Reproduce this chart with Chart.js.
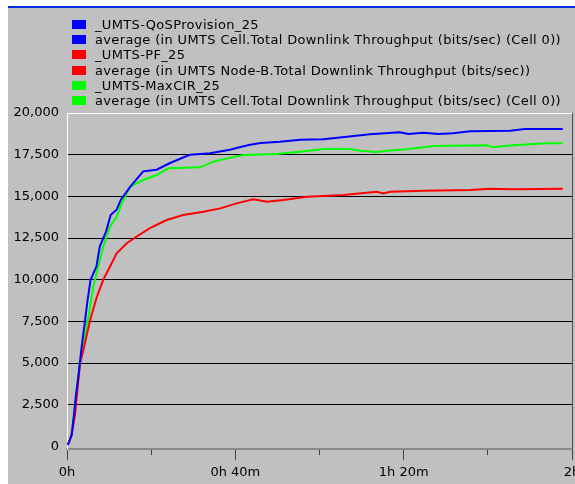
<!DOCTYPE html>
<html>
<head>
<meta charset="utf-8">
<script src="https://cdn.jsdelivr.net/npm/chart.js@4"></script>
<style>
  html, body { margin: 0; padding: 0; background: #fff; }
  body { width: 575px; height: 484px; position: relative; overflow: hidden; font-family: "DejaVu Sans", sans-serif; }
  #panel { position: absolute; left: 8px; top: 6px; width: 567px; height: 476px; border-top: 2px solid #0030e8; background: #c0c0c0; }
  #wrap { position: absolute; left: 0; top: 0; width: 567px; height: 476px; }
  #legend { position: absolute; left: 64px; top: 9px; margin: 0; padding: 0; list-style: none; }
  #legend li { display: flex; align-items: center; height: 15.2px; font-size: 13px; letter-spacing: 0.35px; color: #000; white-space: nowrap; }
  #legend span.box { display: inline-block; width: 14px; height: 9px; margin-right: 9px; }
</style>
</head>
<body>
<div id="panel">
  <div id="wrap"><canvas id="grafica" width="567" height="476"></canvas></div>
  <ul id="legend"></ul>
</div>
<script>
// 📊 Datos (minutos / bits por segundo)
const qosTime = [0.2, 1.1, 1.7, 2.1, 2.7, 3.5, 4.3, 4.9, 5.6, 7.0, 7.8, 9.3, 10.4, 11.8, 12.8, 15.1, 18.1, 21.3, 24.5, 27.3, 29.3, 34, 38.7, 41, 43.5, 46, 50.6, 55.4, 60.9, 66.5, 72, 79.1, 81.1, 84.7, 88.2, 91.8, 95.8, 105.3, 108.8, 117.8];
const qosValues = [90, 690, 2000, 3000, 4200, 6000, 7600, 8800, 10000, 10800, 12000, 12900, 13900, 14200, 14800, 15600, 16500, 16600, 17000, 17300, 17500, 17580, 17800, 17950, 18100, 18200, 18280, 18400, 18420, 18580, 18720, 18840, 18740, 18820, 18740, 18780, 18900, 18940, 19040, 19040];

const pfTime = [0.2, 1.1, 1.9, 3.1, 3.9, 5.5, 7.1, 8.6, 10.2, 11.8, 14.2, 16.5, 19.7, 23.7, 27.6, 32.4, 36.4, 40.3, 44.3, 47.5, 51.4, 57, 65.7, 73.6, 75.2, 76.8, 84.7, 95.8, 100.5, 106.1, 117.8];
const pfValues = [90, 690, 1890, 4990, 5790, 7590, 8980, 9990, 10780, 11580, 12190, 12580, 13090, 13580, 13880, 14080, 14280, 14580, 14820, 14680, 14780, 14980, 15080, 15280, 15180, 15280, 15340, 15380, 15460, 15420, 15460];

const maxCirTime = [0.2, 1.1, 1.7, 2.1, 2.7, 3.5, 5.1, 6.25, 7.4, 8.6, 10.2, 11.8, 13, 15, 18.1, 21.3, 24.1, 31.6, 34.8, 38, 41.9, 49.8, 55.4, 60.9, 67.3, 69.6, 73.6, 76, 80.7, 84.7, 87.1, 99.8, 101.3, 104.5, 110, 114, 117.8];
const maxCirValues = [90, 690, 2000, 3000, 4200, 5790, 7780, 9580, 10780, 11980, 13180, 13780, 14580, 15580, 15980, 16280, 16680, 16740, 17080, 17280, 17480, 17540, 17680, 17840, 17840, 17740, 17660, 17740, 17820, 17940, 18020, 18060, 17940, 18040, 18120, 18180, 18180];

const seriesNames = ['_UMTS-QoSProvision_25', '_UMTS-PF_25', '_UMTS-MaxCIR_25'];
const seriesStats = [
  'average (in UMTS Cell.Total Downlink Throughput (bits/sec) (Cell 0))',
  'average (in UMTS Node-B.Total Downlink Throughput (bits/sec))',
  'average (in UMTS Cell.Total Downlink Throughput (bits/sec) (Cell 0))'
];
const seriesColors = ['#0000ff', '#ff0000', '#00ff00'];

const yTickValues = [0, 2500, 5000, 7500, 10000, 12500, 15000, 17500, 20000];
const xTickValues = [0, 20, 40, 60, 80, 100, 120];
const xTickLabels = ['0h', '', '0h 40m', '', '1h 20m', '', '2h'];

const puntos = (xs, ys) => xs.map((x, i) => ({ x: x, y: ys[i] }));

const datasets = [
  { label: seriesNames[0], stat: seriesStats[0], data: puntos(qosTime, qosValues), borderColor: seriesColors[0] },
  { label: seriesNames[1], stat: seriesStats[1], data: puntos(pfTime, pfValues), borderColor: seriesColors[1] },
  { label: seriesNames[2], stat: seriesStats[2], data: puntos(maxCirTime, maxCirValues), borderColor: seriesColors[2] }
].map(d => Object.assign(d, { borderWidth: 2, pointRadius: 0, tension: 0, fill: false }));

// 🖼️ marco del área de trazado (borde derecho oscuro)
const marco = {
  id: 'marco',
  afterDraw(chart) {
    const { ctx, chartArea } = chart;
    ctx.save();
    ctx.strokeStyle = '#505050';
    ctx.lineWidth = 1;
    ctx.beginPath();
    ctx.moveTo(chartArea.right + 0.5, chartArea.top);
    ctx.lineTo(chartArea.right + 0.5, chartArea.bottom);
    ctx.stroke();
    ctx.restore();
  }
};

const fuente = { family: '"DejaVu Sans", sans-serif', size: 13 };

const chart = new Chart(document.getElementById('grafica'), {
  type: 'line',
  data: { datasets: datasets },
  plugins: [marco],
  options: {
    responsive: false,
    animation: false,
    layout: { padding: { top: 105, right: 3, left: 0, bottom: 0 } },
    plugins: { legend: { display: false }, tooltip: { enabled: false } },
    scales: {
      x: {
        type: 'linear',
        min: 0,
        max: 120,
        afterBuildTicks: s => { s.ticks = xTickValues.map(v => ({ value: v })); },
        afterFit: s => { s.height = 35; s.paddingLeft = 0; s.paddingRight = 0; },
        ticks: {
          autoSkip: false,
          maxRotation: 0,
          padding: 5,
          color: '#000',
          font: fuente,
          callback: (v, i) => xTickLabels[i]
        },
        grid: {
          drawOnChartArea: false,
          drawTicks: true,
          tickLength: 11,
          tickColor: '#404040',
          tickWidth: 1,
          tickBorderDash: c => (xTickLabels[c.index] ? [] : [5, 20])
        },
        border: { color: '#8a8a8a', width: 2 }
      },
      y: {
        min: -150,
        max: 20000,
        afterBuildTicks: s => { s.ticks = yTickValues.map(v => ({ value: v })); },
        afterFit: s => { s.width = 59; },
        ticks: {
          padding: 8,
          color: '#000',
          font: fuente,
          callback: v => v.toLocaleString('en-US')
        },
        grid: {
          drawTicks: false,
          lineWidth: 1,
          color: c => (c.tick.value === 0 ? 'rgba(0,0,0,0)' : c.tick.value === 20000 ? '#ffffff' : '#000000')
        },
        border: { color: '#ffffff', width: 1 }
      }
    }
  }
});

// 🏷️ leyenda: nombre del escenario y estadística, un renglón cada uno
const lista = document.getElementById('legend');
chart.data.datasets.forEach(ds => {
  [ds.label, ds.stat].forEach(texto => {
    const li = document.createElement('li');
    li.innerHTML = `<span class="box" style="background:${ds.borderColor}"></span>${texto}`;
    lista.appendChild(li);
  });
});
</script>
</body>
</html>
